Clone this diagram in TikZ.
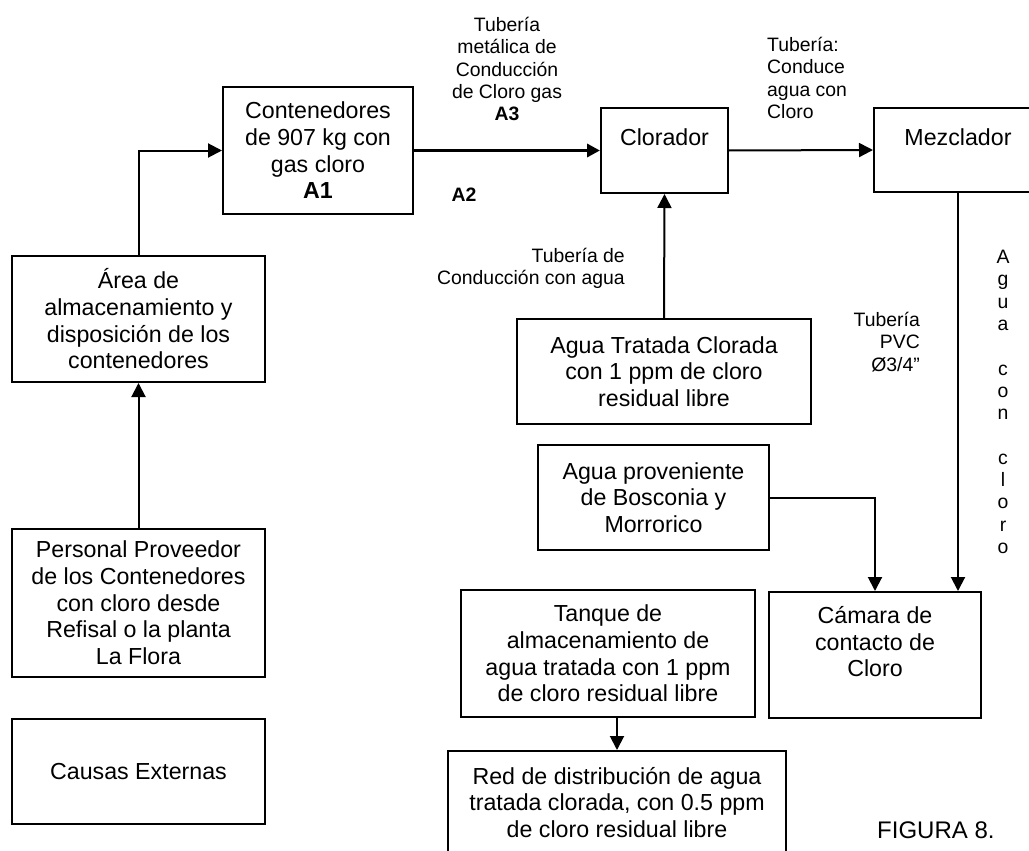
\documentclass[tikz,border=0pt]{standalone}
\usepackage{fontspec}
\setmainfont{Liberation Sans}
\usetikzlibrary{arrows.meta}
\tikzset{
  caja/.style={draw, line width=2pt, rectangle, inner sep=0pt, align=center,
    font=\fontsize{23.2}{26.7}\selectfont},
  etiq/.style={inner sep=0pt, font=\fontsize{19.4}{22.4}\selectfont},
  flecha/.style={line width=2pt, -{Triangle[length=14pt,width=14pt]}},
  gruesa/.style={line width=3.5pt, -{Triangle[length=13pt,width=13pt]}}
}

\begin{document}
\begin{tikzpicture}[x=1pt,y=-1pt]
			%%%%% START %%%%%
			\useasboundingbox (0,0) rectangle (1029,851);
			
			\node[caja, minimum width=190pt, minimum height=127pt] (cont) at (318, 150.5) {Contenedores\\de 907 kg con\\gas cloro\\\textbf{A1}};
			\node[caja, minimum width=127pt, minimum height=85pt] (clor) at (664.5, 150.5) {Clorador\\\mbox{}};
			\node[caja, minimum width=168pt, minimum height=84pt] (mez) at (958, 150) {Mezclador\\\mbox{}};
			
			\node[caja, minimum width=253pt, minimum height=126pt] (area) at (138.5, 319) {Área de\\almacenamiento y\\disposición de los\\contenedores};
			\node[caja, minimum width=253pt, minimum height=148pt] (pers) at (138.5, 603) {Personal Proveedor\\de los Contenedores\\con cloro desde\\Refisal o la planta\\La Flora};
			\node[caja, minimum width=253pt, minimum height=105pt] (causas) at (138.5, 771.5) {Causas Externas};
			
			\node[caja, minimum width=294pt, minimum height=105pt] (trat) at (664, 371.5) {Agua Tratada Clorada\\con 1 ppm de cloro\\residual libre};
			\node[caja, minimum width=231pt, minimum height=105pt] (prov) at (653.5, 497.5) {Agua proveniente\\de Bosconia y\\Morrorico};
			\node[caja, minimum width=212pt, minimum height=126pt] (cam) at (875, 655) {Cámara de\\contacto de\\Cloro\\\mbox{}};
			\node[caja, minimum width=294pt, minimum height=127pt] (tanq) at (608, 653.5) {Tanque de\\almacenamiento de\\agua tratada con 1 ppm\\de cloro residual libre};
			\node[caja, minimum width=338pt, minimum height=103pt] (red) at (617, 802.5) {Red de distribución de agua\\tratada clorada, con 0.5 ppm\\de cloro residual libre};
			
			% etiquetas de las tuberias
			\node[etiq, align=center] (lblgas) at (507, 69) {Tubería\\metálica de\\Conducción\\de Cloro gas\\\textbf{A3}};
			\node[etiq] (lblA2) at (464, 195) {\textbf{A2}};
			\node[etiq, align=left, anchor=west] (lblmez) at (767, 78) {Tubería:\\Conduce\\agua con\\Cloro};
			\node[etiq, align=right, anchor=east] (lblagua) at (625, 268.5) {Tubería de\\Conducción con agua};
			\node[etiq, align=right, anchor=east] (lblpvc) at (920, 342) {Tubería\\PVC\\Ø3/4”};
			\node[inner sep=0pt, align=center, font=\fontsize{19.4}{22.3}\selectfont] (lblcon) at (1003, 402) {A\\g\\u\\a\\\mbox{}\\c\\o\\n\\\mbox{}\\c\\l\\o\\r\\o};
			\node[inner sep=0pt, font=\fontsize{24}{27}\selectfont, anchor=west] (fig) at (877, 830) {FIGURA 8.};
			
			% conexiones
			\draw[flecha] (pers.north) -- (area.south);
			\draw[flecha] (area.north) |- (cont.west);
			\draw[gruesa] (cont.east) -- (clor.west);
			\draw[flecha] (clor.east) -- (mez.west);
			\draw[flecha] (trat.north) -- (clor.south);
			\draw[flecha] (prov.east) -| (cam.north);
			\draw[flecha] (mez.south) -- (mez.south |- cam.north);
			\draw[flecha] (red.north |- tanq.south) -- (red.north);
			
			%%%%% END %%%%%
\end{tikzpicture}
\end{document}
